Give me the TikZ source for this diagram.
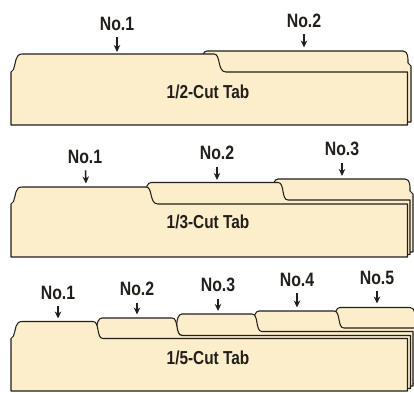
\documentclass[tikz,border=0pt]{standalone}
\usepackage{fontspec}
\setmainfont{Liberation Sans}[FakeStretch=0.82]
\usetikzlibrary{arrows.meta}
\definecolor{manila}{RGB}{252,238,202}
\definecolor{ink}{RGB}{34,30,26}
\tikzset{
  folder/.style={fill=manila, draw=ink, line width=0.9pt, line join=round},
  tabno/.style={font=\bfseries\fontsize{16.5}{16.5}\selectfont, text=ink, inner sep=1pt},
  cutname/.style={font=\bfseries\fontsize{16}{16}\selectfont, text=ink},
  pointer/.style={-{Stealth[length=6pt,width=5.5pt]}, line width=1.3pt, draw=ink, shorten <=4.5pt},
}
\begin{document}
\begin{tikzpicture}[x=0.03cm, y=-0.03cm]
\useasboundingbox (0,0) rectangle (414,393);
% 1/2-cut
\filldraw[folder] (411,122) -- (13.5,122) -- (13.5,72) -- (207,72) .. controls (200,72) and (200,51) .. (207,51) -- (403,51) .. controls (408.5,51) and (408,59) .. (408,63) -- (411,66) -- cycle;
\filldraw[folder] (11,125) -- (11,72) -- (13.5,69.5) .. controls (16,63) and (15,54) .. (22,54) -- (214,54) .. controls (221,54) and (217,72) .. (226,72) -- (407.5,72) -- (407.5,125) -- cycle;
\node[tabno] (n21) at (117,23.5) {No.1};
\node[tabno] (n22) at (304,20.5) {No.2};
\coordinate (p21) at (117,52);
\coordinate (p22) at (304,47.5);
\draw[pointer] (n21) -- (p21);
\draw[pointer] (n22) -- (p22);
\node[cutname] (cut2) at (208,92) {1/2-Cut Tab};
% 1/3-cut
\filldraw[folder] (413,252) -- (16,252) -- (16,200) -- (278,200) .. controls (271,200) and (271,179) .. (278,179) -- (405,179) .. controls (410.5,179) and (410,187) .. (410,191) -- (413,194) -- cycle;
\filldraw[folder] (410,254.5) -- (13.5,254.5) -- (13.5,204) -- (151,204) .. controls (144,204) and (144,182.5) .. (151,182.5) -- (278,182.5) .. controls (285,182.5) and (281,200) .. (288,200) -- (410,200) -- cycle;
\filldraw[folder] (11,257) -- (11,204) -- (13.5,201.5) .. controls (16,195) and (15,187) .. (22,187) -- (146,187) .. controls (153,187) and (149,204) .. (158,204) -- (407.5,204) -- (407.5,257) -- cycle;
\node[tabno] (n31) at (85,157) {No.1};
\node[tabno] (n32) at (217,153) {No.2};
\node[tabno] (n33) at (342,149) {No.3};
\coordinate (p31) at (86,183.5);
\coordinate (p32) at (217,180);
\coordinate (p33) at (342,176);
\draw[pointer] (n31) -- (p31);
\draw[pointer] (n32) -- (p32);
\draw[pointer] (n33) -- (p33);
\node[cutname] (cut3) at (208,222) {1/3-Cut Tab};
% 1/5-cut
\filldraw[folder] (418,381) -- (21,381) -- (21,328) -- (340,328) .. controls (333,328) and (333,307.5) .. (340,307.5) -- (410,307.5) .. controls (415.5,307.5) and (415,315.5) .. (415,319.5) -- (418,322.5) -- cycle;
\filldraw[folder] (415.5,383.5) -- (18.5,383.5) -- (18.5,331.5) -- (259,331.5) .. controls (252,331.5) and (252,311) .. (259,311) -- (334,311) .. controls (341,311) and (337,328) .. (344,328) -- (415.5,328) -- cycle;
\filldraw[folder] (413,386) -- (16,386) -- (16,335.5) -- (182,335.5) .. controls (175,335.5) and (175,314) .. (182,314) -- (252,314) .. controls (259,314) and (255,331.5) .. (262,331.5) -- (413,331.5) -- cycle;
\filldraw[folder] (410.5,388.5) -- (13.5,388.5) -- (13.5,338.5) -- (102,338.5) .. controls (95,338.5) and (95,318) .. (102,318) -- (172,318) .. controls (179,318) and (175,335.5) .. (182,335.5) -- (410.5,335.5) -- cycle;
\filldraw[folder] (11,391) -- (11,338.5) -- (13.5,336) .. controls (16,329.5) and (15,321.5) .. (22,321.5) -- (93,321.5) .. controls (100,321.5) and (96,338.5) .. (103,338.5) -- (407.5,338.5) -- (407.5,391) -- cycle;
\node[tabno] (n51) at (58,293) {No.1};
\node[tabno] (n52) at (137,289) {No.2};
\node[tabno] (n53) at (218,285) {No.3};
\node[tabno] (n54) at (297,280) {No.4};
\node[tabno] (n55) at (377,278) {No.5};
\coordinate (p51) at (58,318.5);
\coordinate (p52) at (137,314.5);
\coordinate (p53) at (218,311);
\coordinate (p54) at (297,307.5);
\coordinate (p55) at (377,303.5);
\draw[pointer] (n51) -- (p51);
\draw[pointer] (n52) -- (p52);
\draw[pointer] (n53) -- (p53);
\draw[pointer] (n54) -- (p54);
\draw[pointer] (n55) -- (p55);
\node[cutname] (cut5) at (208,358) {1/5-Cut Tab};
\end{tikzpicture}
\end{document}
